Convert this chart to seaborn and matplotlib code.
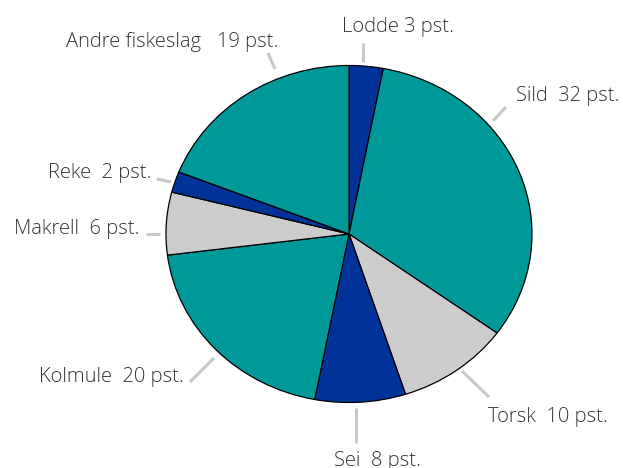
import seaborn as sns
import matplotlib.pyplot as plt

# Fangst fordelt på fiskeslag, prosent (med klokka fra toppen)
species = ['Lodde', 'Sild', 'Torsk', 'Sei', 'Kolmule', 'Makrell', 'Reke', 'Andre fiskeslag']
shares = [3, 32, 10, 8, 20, 6, 2, 19]
labels = ['Lodde 3 pst.', 'Sild  32 pst.', 'Torsk  10 pst.', 'Sei  8 pst.',
          'Kolmule  20 pst.', 'Makrell  6 pst.', 'Reke  2 pst.', 'Andre fiskeslag   19 pst.']
hex_colors = ['#003399', '#009999', '#cccccc', '#003399', '#009999', '#cccccc', '#003399', '#009999']

# label placement in image pixels: text anchor, alignment, leader line (x0, y0, x1, y1)
text_pos = [(342, 27, 'left'), (516, 96, 'left'), (488, 417, 'left'), (334, 461, 'left'),
            (184, 377, 'right'), (140, 229, 'right'), (152, 173, 'right'), (278, 42, 'right')]
leaders = [(363, 43, 363, 62), (506, 107, 493, 121), (462, 371, 489, 397), (356, 408, 356, 443),
           (190, 382, 214, 358), (146, 234, 160, 234), (157, 179, 171, 182), (268, 53, 275, 69)]

W, H = 623, 468
CX, CY, RX, RY = 349, 234, 183, 168.5

sns.set_theme(style='white')
plt.rcParams['font.family'] = ['Open Sans', 'DejaVu Sans']

fig = plt.figure(figsize=(W / 100, H / 100), dpi=100)
ax = fig.add_axes([(CX - RX) / W, 1 - (CY + RY) / H, 2 * RX / W, 2 * RY / H])

ax.pie(shares, colors=sns.color_palette(hex_colors), startangle=90, counterclock=False,
       radius=1, wedgeprops=dict(edgecolor='black', linewidth=0.9))
ax.set_aspect('auto')
ax.set_xlim(-1, 1)
ax.set_ylim(-1, 1)
ax.axis('off')


def to_data(px, py):
    return (px - CX) / RX, (CY - py) / RY


for lab, (tx, ty, ha), (x0, y0, x1, y1) in zip(labels, text_pos, leaders):
    a = to_data(x0, y0)
    b = to_data(x1, y1)
    ax.plot([a[0], b[0]], [a[1], b[1]], color='#c8c8c8', lw=2.2, clip_on=False,
            solid_capstyle='butt')
    dx, dy = to_data(tx, ty)
    ax.text(dx, dy, lab, ha=ha, va='center', fontsize=14.5, fontweight='light',
            color='#333333', clip_on=False)

plt.savefig('out.png', dpi=100)
